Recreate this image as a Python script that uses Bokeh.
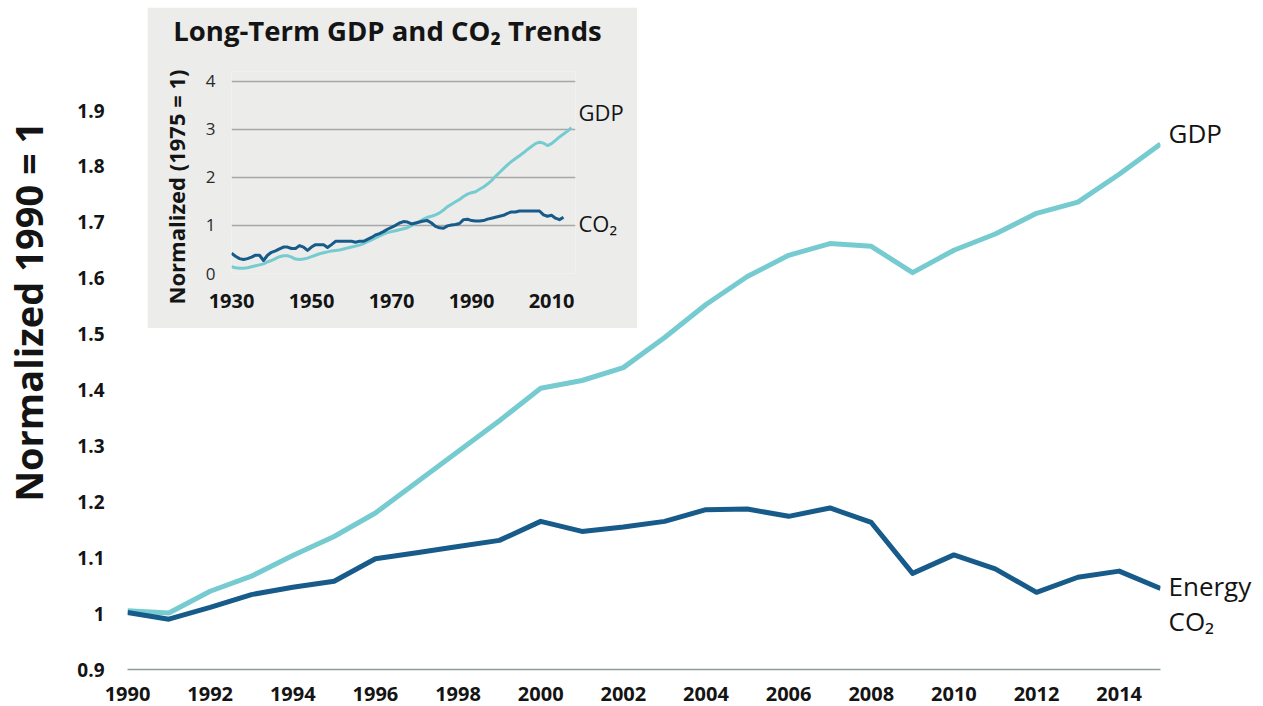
import math
from bokeh.plotting import figure
from bokeh.models import Range1d, FixedTicker, NumeralTickFormatter
from bokeh.core.properties import value
from bokeh.layouts import column
from bokeh.embed import file_html
from bokeh.resources import INLINE

# ---------------- data: main chart (normalized 1990 = 1) ----------------
years = list(range(1990, 2016))
gdp = [1.005, 1.001, 1.040, 1.067, 1.104, 1.138, 1.180, 1.235, 1.290, 1.345,
       1.403, 1.417, 1.440, 1.494, 1.553, 1.603, 1.641, 1.662, 1.657, 1.610,
       1.650, 1.679, 1.716, 1.736, 1.786, 1.840]
co2 = [1.002, 0.990, 1.011, 1.034, 1.047, 1.058, 1.098, 1.109, 1.120, 1.131,
       1.165, 1.147, 1.155, 1.165, 1.186, 1.187, 1.174, 1.189, 1.163, 1.072,
       1.105, 1.080, 1.038, 1.065, 1.076, 1.045]
x_ticks = list(range(1990, 2015, 2))
y_ticks = [0.9, 1.0, 1.1, 1.2, 1.3, 1.4, 1.5, 1.6, 1.7, 1.8, 1.9]

# ---------------- data: inset (normalized 1975 = 1) ----------------
years_gdp_long = list(range(1930, 2016))
gdp_long = [0.14, 0.12, 0.11, 0.11, 0.12, 0.14, 0.16, 0.18, 0.20, 0.24,
            0.27, 0.31, 0.35, 0.37, 0.37, 0.34, 0.30, 0.29, 0.30, 0.32,
            0.35, 0.38, 0.41, 0.43, 0.45, 0.47, 0.48, 0.49, 0.51, 0.53,
            0.55, 0.57, 0.59, 0.62, 0.66, 0.70, 0.74, 0.78, 0.82, 0.85,
            0.87, 0.89, 0.91, 0.93, 0.95, 1.00, 1.03, 1.08, 1.13, 1.17,
            1.19, 1.22, 1.26, 1.32, 1.39, 1.44, 1.49, 1.54, 1.60, 1.65,
            1.68, 1.70, 1.75, 1.80, 1.86, 1.93, 2.02, 2.10, 2.18, 2.26,
            2.33, 2.39, 2.45, 2.51, 2.58, 2.64, 2.70, 2.73, 2.71, 2.66,
            2.70, 2.77, 2.84, 2.90, 2.96, 3.03]
years_co2_long = list(range(1930, 2014))
co2_long = [0.42, 0.36, 0.31, 0.29, 0.31, 0.34, 0.38, 0.38, 0.27, 0.38,
            0.44, 0.47, 0.51, 0.55, 0.55, 0.52, 0.52, 0.58, 0.55, 0.48,
            0.55, 0.60, 0.60, 0.60, 0.54, 0.60, 0.67, 0.67, 0.67, 0.67,
            0.67, 0.65, 0.67, 0.67, 0.71, 0.75, 0.80, 0.83, 0.87, 0.92,
            0.96, 1.00, 1.05, 1.08, 1.07, 1.03, 1.05, 1.07, 1.09, 1.10,
            1.05, 0.98, 0.95, 0.94, 0.99, 1.01, 1.02, 1.04, 1.12, 1.13,
            1.10, 1.09, 1.09, 1.10, 1.13, 1.15, 1.17, 1.19, 1.21, 1.25,
            1.28, 1.28, 1.30, 1.30, 1.30, 1.30, 1.30, 1.30, 1.22, 1.19,
            1.21, 1.15, 1.12, 1.17]
inset_x_ticks = [1930, 1950, 1970, 1990, 2010]
inset_y_ticks = [0, 1, 2, 3, 4]

GDP_COLOR = "#76CBD0"
CO2_COLOR = "#175B8B"
TEXT = "#141414"
FONT = "Open Sans"

W, H = 1263, 706

# ---------------- main figure geometry (pixels) ----------------
M_LEFT, M_RIGHT, M_TOP, M_BOTTOM = 127, 1160, 90, 669
MX0, MX1 = 1990, 2015
MY0 = 0.9
M_PX_Y = 559.0  # pixels per 1.0 unit
MY1 = MY0 + (M_BOTTOM - M_TOP) / M_PX_Y
M_PX_X = (M_RIGHT - M_LEFT) / (MX1 - MX0)

p = figure(width=W, height=H, output_backend="svg", toolbar_location=None,
           x_range=Range1d(MX0, MX1), y_range=Range1d(MY0, MY1),
           min_border_left=M_LEFT, min_border_right=W - M_RIGHT,
           min_border_top=M_TOP, min_border_bottom=H - M_BOTTOM,
           frame_align=False)
p.outline_line_color = None
p.xgrid.visible = False
p.ygrid.visible = False

p.line(years, gdp, line_color=GDP_COLOR, line_width=5, line_join="round")
p.line(years, co2, line_color=CO2_COLOR, line_width=5, line_join="round")

xa = p.xaxis[0]
xa.ticker = FixedTicker(ticks=x_ticks)
xa.axis_line_color = "#8E9B9B"
xa.axis_line_width = 1.5
xa.major_tick_line_color = None
xa.minor_tick_line_color = None
xa.major_label_standoff = 11
xa.major_label_text_font = FONT
xa.major_label_text_font_style = "bold"
xa.major_label_text_font_size = "20px"
xa.major_label_text_color = TEXT

ya = p.yaxis[0]
ya.ticker = FixedTicker(ticks=y_ticks)
ya.formatter = NumeralTickFormatter(format="0.[0]")
ya.axis_line_color = None
ya.major_tick_line_color = None
ya.minor_tick_line_color = None
ya.major_label_standoff = 17
ya.major_label_text_font = FONT
ya.major_label_text_font_style = "bold"
ya.major_label_text_font_size = "19px"
ya.major_label_text_color = TEXT

# ---------------- inset figure ----------------
IN_L, IN_T, IN_W, IN_H = 147, 7, 490, 321
I_LEFT, I_RIGHT, I_TOP, I_BOTTOM = 231, 575, 71, 273
IX0, IX1 = 1930, 2016
IY0, IY1 = 0, 4.2
I_PX_X = (I_RIGHT - I_LEFT) / (IX1 - IX0)
I_PX_Y = (I_BOTTOM - I_TOP) / (IY1 - IY0)

INSET_BG = "#ECECEB"
q = figure(width=IN_W, height=IN_H, output_backend="svg", toolbar_location=None,
           x_range=Range1d(IX0, IX1), y_range=Range1d(IY0, IY1),
           min_border_left=I_LEFT - IN_L, min_border_right=IN_L + IN_W - I_RIGHT,
           min_border_top=I_TOP - IN_T, min_border_bottom=IN_T + IN_H - I_BOTTOM,
           frame_align=False,
           styles={"position": "absolute", "left": f"{IN_L}px", "top": f"{IN_T}px"})
q.outline_line_color = None
q.background_fill_color = INSET_BG
q.border_fill_color = INSET_BG
q.xgrid.visible = False
q.ygrid.ticker = FixedTicker(ticks=inset_y_ticks)
q.ygrid.grid_line_color = "#A7A7A7"
q.ygrid.grid_line_width = 1.5

q.line(years_gdp_long, gdp_long, line_color=GDP_COLOR, line_width=3, line_join="round")
q.line(years_co2_long, co2_long, line_color=CO2_COLOR, line_width=3, line_join="round")

qx = q.xaxis[0]
qx.ticker = FixedTicker(ticks=inset_x_ticks)
qx.axis_line_color = None
qx.major_tick_line_color = None
qx.minor_tick_line_color = None
qx.major_label_standoff = 14
qx.major_label_text_font = FONT
qx.major_label_text_font_style = "bold"
qx.major_label_text_font_size = "20px"
qx.major_label_text_color = TEXT

qy = q.yaxis[0]
qy.ticker = FixedTicker(ticks=inset_y_ticks)
qy.axis_line_color = None
qy.major_tick_line_color = None
qy.minor_tick_line_color = None
qy.major_label_standoff = 10
qy.major_label_text_font = FONT
qy.major_label_text_font_size = "17px"
qy.major_label_text_color = "#2a2a2a"

# ---------------- transparent text overlay (same scales, whole canvas) ----------------
ox0 = MX0 - M_LEFT / M_PX_X
oy0 = MY0 - (H - M_BOTTOM) / M_PX_Y
ov = figure(width=W, height=H, output_backend="svg", toolbar_location=None,
            x_range=Range1d(ox0, ox0 + W / M_PX_X),
            y_range=Range1d(oy0, oy0 + H / M_PX_Y),
            x_axis_type=None, y_axis_type=None,
            min_border_left=0, min_border_right=0, min_border_top=0, min_border_bottom=0,
            frame_align=False,
            styles={"position": "absolute", "left": "0px", "top": "0px", "z-index": "5"})
ov.outline_line_color = None
ov.background_fill_alpha = 0
ov.border_fill_alpha = 0
ov.grid.visible = False
ix0 = IX0 - I_LEFT / I_PX_X
iy0 = IY0 - (H - I_BOTTOM) / I_PX_Y
ov.extra_x_ranges = {"inset": Range1d(ix0, ix0 + W / I_PX_X)}
ov.extra_y_ranges = {"inset": Range1d(iy0, iy0 + H / I_PX_Y)}

def txt(fig, x, y, s, size, bold=False, angle=0, align="left", baseline="alphabetic",
        dx=0, dy=0, inset=False):
    kw = dict(x_range_name="inset", y_range_name="inset") if inset else {}
    fig.text(x=[x], y=[y], text=[s], angle=angle, x_offset=dx, y_offset=dy,
             text_align=align, text_baseline=baseline, text_font=value(FONT),
             text_font_style="bold" if bold else "normal", text_font_size=size,
             text_color=TEXT, **kw)

# main chart texts
txt(ov, MX0, 1.54, "Normalized 1990 = 1", "38px", bold=True, angle=math.pi / 2,
    align="center", baseline="middle", dx=-100)
txt(ov, MX1, gdp[-1], "GDP", "26px", dx=8, dy=-11)
txt(ov, MX1, co2[-1], "Energy", "26px", dx=8, dy=-2)
txt(ov, MX1, co2[-1], "CO\u2082", "26px", dx=8, dy=33)
# inset texts
txt(ov, 1969, IY1, "Long-Term GDP and CO\u2082 Trends", "27.5px", bold=True,
    align="center", dy=-41, inset=True)
txt(ov, IX0, 1.80, "Normalized (1975 = 1)", "22px", bold=True, angle=math.pi / 2,
    align="center", baseline="middle", dx=-56, inset=True)
txt(ov, IX1, gdp_long[-1], "GDP", "22px", dx=3, dy=-16, inset=True)
txt(ov, IX1, co2_long[-1], "CO\u2082", "22px", dx=3, dy=6, inset=True)

layout = column(p, q, ov, styles={"position": "relative"})
open("out.html", "w").write(file_html(layout, INLINE))
